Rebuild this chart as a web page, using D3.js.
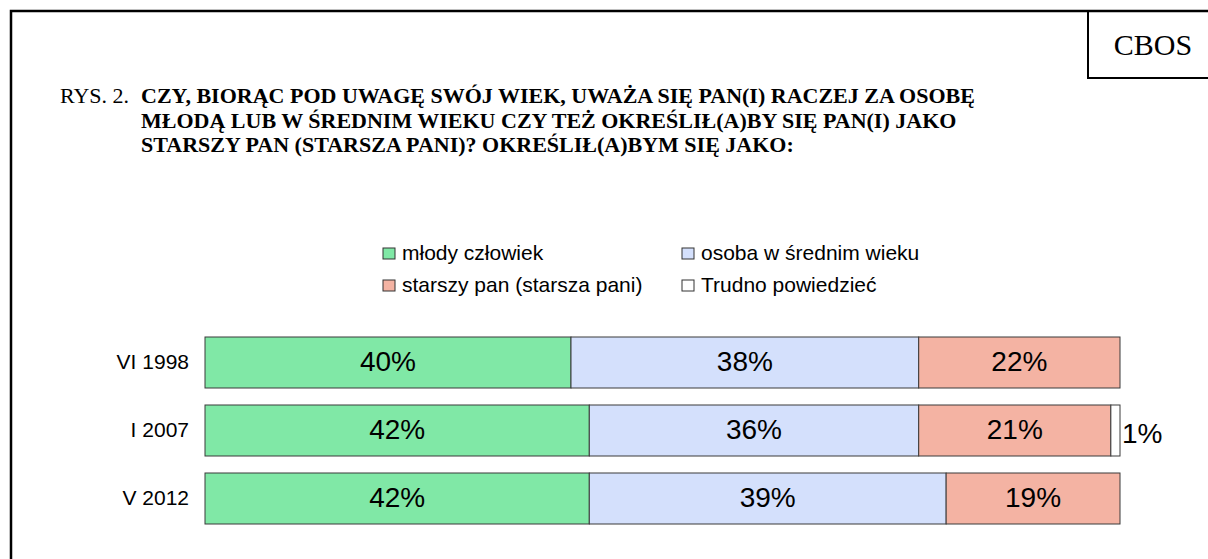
<!DOCTYPE html>
<html><head><meta charset="utf-8">
<script src="https://cdn.jsdelivr.net/npm/d3@7"></script>
<style>body{margin:0;background:#fff}svg{display:block}</style>
</head><body>
<script>
const categories = ["VI 1998", "I 2007", "V 2012"];
const seriesNames = ["młody człowiek", "osoba w średnim wieku", "starszy pan (starsza pani)", "Trudno powiedzieć"];
const mlody = [40, 42, 42];
const srednim = [38, 36, 39];
const starszy = [22, 21, 19];
const trudno = [0, 1, 0];
const colors = ["#80e8a6", "#d4e0fc", "#f4b3a3", "#ffffff"];

const W = 1208, H = 559;
const svg = d3.select("body").append("svg").attr("width", W).attr("height", H);
const sans = "'Liberation Sans', Arial, sans-serif";
const serif = "'Liberation Serif', 'Times New Roman', serif";

// frame
svg.append("path").attr("d", `M11,${H} V11 H${W}`).attr("fill","none").attr("stroke","#000").attr("stroke-width",2.5);
svg.append("path").attr("d", `M1088,11 V78 H${W}`).attr("fill","none").attr("stroke","#000").attr("stroke-width",2);
svg.append("text").attr("x",1153).attr("y",55).attr("text-anchor","middle")
  .style("font-family",serif).style("font-size","30px").text("CBOS");

// title
const t1 = svg.append("text").attr("y",103).style("font-family",serif).style("font-size","22px");
t1.append("tspan").attr("x",60).text("RYS. 2.");
t1.append("tspan").attr("x",141).style("font-weight","bold").text("CZY, BIORĄC POD UWAGĘ SWÓJ WIEK, UWAŻA SIĘ PAN(I) RACZEJ ZA OSOBĘ");
svg.append("text").attr("x",141).attr("y",128).style("font-family",serif).style("font-size","22px").style("font-weight","bold")
  .text("MŁODĄ LUB W ŚREDNIM WIEKU CZY TEŻ OKREŚLIŁ(A)BY SIĘ PAN(I) JAKO");
svg.append("text").attr("x",141).attr("y",152).style("font-family",serif).style("font-size","22px").style("font-weight","bold")
  .text("STARSZY PAN (STARSZA PANI)? OKREŚLIŁ(A)BYM SIĘ JAKO:");

// legend
const legPos = [[383,248],[682,248],[383,280],[682,280]];
seriesNames.forEach((name, i) => {
  const [lx, ly] = legPos[i];
  svg.append("rect").attr("x",lx).attr("y",ly).attr("width",12).attr("height",11)
    .attr("fill",colors[i]).attr("stroke","#333").attr("stroke-width",1);
  svg.append("text").attr("x",lx+19).attr("y",ly+12)
    .style("font-family",sans).style("font-size","21px").text(name);
});

// data
const data = categories.map((c, i) => ({cat: c, vals: [mlody[i], srednim[i], starszy[i], trudno[i]]}));
const x = d3.scaleLinear().domain([0, 100]).range([205, 1120]);
const y0 = d3.scaleBand().domain(categories).range([337 - 8.5, 524 + 8.5]).paddingInner(0.25).paddingOuter(0.125);

data.forEach(d => {
  let acc = 0;
  d.vals.forEach((v, k) => {
    if (v <= 0) return;
    const x0 = x(acc), x1 = x(acc + v);
    const cy = y0(d.cat) + y0.bandwidth()/2;
    svg.append("rect").attr("x", x0).attr("y", y0(d.cat)).attr("width", x1 - x0).attr("height", y0.bandwidth())
      .attr("fill", colors[k]).attr("stroke", "#3a3a3a").attr("stroke-width", 1);
    const lbl = svg.append("text").style("font-family",sans).style("font-size","28px").text(v + "%");
    if (k === 3) lbl.attr("x", x1 + 2).attr("y", cy + 12.5);
    else lbl.attr("x", (x0 + x1)/2).attr("y", cy + 8).attr("text-anchor","middle");
    acc += v;
  });
});

// category axis labels
const ax = svg.append("g").attr("transform","translate(205,0)").call(d3.axisLeft(y0).tickSize(0).tickPadding(16));
ax.select(".domain").remove();
ax.selectAll("text").style("font-family",sans).style("font-size","21px").attr("fill","#000");
</script>
</body></html>
